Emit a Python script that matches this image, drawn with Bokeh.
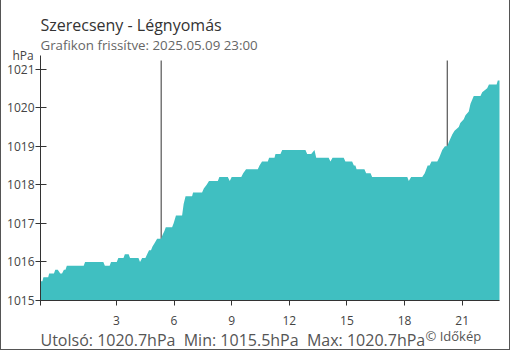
from bokeh.plotting import figure
from bokeh.models import Label, FixedTicker, Range1d
from bokeh.embed import file_html
from bokeh.resources import INLINE

# ---- data (hours of day; -0.95 = previous evening) ----
hours = [-0.95, -0.85, -0.8, -0.55, -0.5, -0.25, -0.18, -0.05, 0.08, 0.17, 0.27, 0.35,
         0.42, 1.3, 1.37, 2.32, 2.4, 2.65, 2.72, 3.02, 3.1, 3.37, 3.44, 3.64, 3.71, 4.15,
         4.23, 4.34, 4.51, 4.6, 4.7, 4.8, 4.88, 5.0, 5.12, 5.33, 5.4, 5.5, 5.57, 5.9,
         5.98, 6.1, 6.42, 6.5, 6.6, 6.94, 6.99, 7.46, 7.55, 7.7, 7.82, 8.28, 8.36, 8.8,
         8.9, 9.0, 9.5, 9.6, 9.75, 10.36, 10.45, 10.58, 10.88, 10.95, 11.23, 11.28, 11.54,
         11.63, 12.84, 12.93, 13.14, 13.31, 13.4, 14.05, 14.14, 14.25, 14.83, 14.92, 15.27,
         15.36, 15.44, 15.5, 15.91, 16.0, 16.23, 16.31, 18.14, 18.22, 18.34, 18.92, 19.05,
         19.2, 19.3, 19.4, 19.7, 19.8, 19.96, 20.1, 20.22, 20.3, 20.48, 20.6, 20.82, 20.9,
         21.08, 21.17, 21.34, 21.43, 21.6, 21.95, 22.04, 22.3, 22.39, 22.79, 22.85, 22.94]
pressure = [1015.5, 1015.5, 1015.6, 1015.6, 1015.7, 1015.7, 1015.8, 1015.8, 1015.7, 1015.7,
            1015.8, 1015.8, 1015.9, 1015.9, 1016.0, 1016.0, 1015.9, 1015.9, 1016.0, 1016.0,
            1016.1, 1016.1, 1016.2, 1016.2, 1016.1, 1016.1, 1016.0, 1016.1, 1016.1, 1016.2,
            1016.3, 1016.3, 1016.4, 1016.5, 1016.6, 1016.6, 1016.7, 1016.8, 1016.9, 1016.9,
            1017.0, 1017.2, 1017.2, 1017.5, 1017.7, 1017.7, 1017.8, 1017.8, 1017.9, 1018.0,
            1018.1, 1018.1, 1018.2, 1018.2, 1018.1, 1018.2, 1018.2, 1018.3, 1018.4, 1018.4,
            1018.5, 1018.6, 1018.6, 1018.7, 1018.7, 1018.8, 1018.8, 1018.9, 1018.9, 1018.8,
            1018.8, 1018.9, 1018.7, 1018.7, 1018.6, 1018.7, 1018.7, 1018.6, 1018.6, 1018.5,
            1018.5, 1018.4, 1018.4, 1018.3, 1018.3, 1018.2, 1018.2, 1018.1, 1018.2, 1018.2,
            1018.3, 1018.5, 1018.5, 1018.6, 1018.6, 1018.7, 1018.9, 1019.0, 1019.0, 1019.1,
            1019.3, 1019.4, 1019.5, 1019.6, 1019.7, 1019.8, 1019.9, 1020.1, 1020.3, 1020.3,
            1020.4, 1020.5, 1020.6, 1020.6, 1020.7, 1020.7]
sun_hours = [5.33, 20.22]          # sunrise, sunset markers
x_ticks = [-0.95, 3, 6, 9, 12, 15, 18, 21]
y_ticks = [1015, 1016, 1017, 1018, 1019, 1020, 1021]
y_min, y_max = 1015, 1021.35
sun_top = 1021.22
title_text = "Szerecseny - Légnyomás"
subtitle_text = "Grafikon frissítve: 2025.05.09 23:00"
unit_text = "hPa"
stats_text = "Utolsó: 1020.7hPa\u00a0\u00a0Min: 1015.5hPa\u00a0\u00a0Max: 1020.7hPa"
credit_text = "© Időkép"

FONT = "Open Sans"
FILL = "#40bfc1"
AXIS = "#333333"

# ---- layout: plotting area inside the 510x350 canvas ----
W, H = 510, 350
PL, PR, PT, PB = 40, 499, 55, 300          # plot-area edges in canvas pixels
x0, x1 = hours[0], hours[-1]
kx = (x1 - x0) / (PR - PL)
ky = (y_max - y_min) / (PB - PT)
x_range = Range1d(x0 - PL * kx, x1 + (W - PR) * kx)
y_range = Range1d(y_min - (H - PB) * ky, y_max + PT * ky)

p = figure(width=W, height=H, output_backend="svg", toolbar_location=None,
           x_range=x_range, y_range=y_range,
           min_border=0, min_border_left=0, min_border_right=0,
           min_border_top=0, min_border_bottom=0)
p.styles = {"box-shadow": "inset 1px 0 0 #555, inset -1px 0 0 #555, inset 0 -1px 0 #555"}
p.border_fill_color = None
p.background_fill_color = None
p.outline_line_color = None
p.grid.visible = False

# sunrise / sunset lines (behind the area)
p.segment(x0=sun_hours, y0=[y_min] * len(sun_hours), x1=sun_hours,
          y1=[sun_top] * len(sun_hours), line_color=AXIS, line_width=1)
p.varea(x=hours, y1=y_min, y2=pressure, fill_color=FILL)

# axes, pinned to the plotting area
p.xaxis.fixed_location = y_min
p.xaxis.bounds = (x0, x1)
p.yaxis.fixed_location = x0
p.yaxis.bounds = (y_min, y_max)
p.xaxis.ticker = FixedTicker(ticks=x_ticks)
p.xaxis.major_label_overrides = {x_ticks[0]: ""}
p.yaxis.ticker = FixedTicker(ticks=y_ticks)
for ax in (p.xaxis, p.yaxis):
    ax.axis_line_color = AXIS
    ax.major_tick_line_color = AXIS
    ax.minor_tick_line_color = None
    ax.major_label_text_font = FONT
    ax.major_label_text_font_size = "12px"
    ax.major_label_text_color = "#444444"
p.xaxis.major_tick_in = 0
p.xaxis.major_tick_out = 5
p.xaxis.major_label_standoff = 10
p.yaxis.major_tick_in = 6
p.yaxis.major_tick_out = 5
p.yaxis.major_label_standoff = 1

def lab(x, y, text, size, color):
    p.add_layout(Label(x=x, y=y, x_units="canvas", y_units="canvas", text=text,
                       text_font=FONT, text_font_size=size, text_color=color,
                       text_align="left", text_baseline="alphabetic"))

lab(40, 24, title_text, "16px", "#333333")
lab(40, 44.5, subtitle_text, "13.3px", "#666666")
lab(12, 55, unit_text, "12px", "#444444")
lab(40, 339, stats_text, "16px", "#555555")
lab(425, 335, credit_text, "13px", "#555555")

open("out.html", "w").write(file_html(p, INLINE))
